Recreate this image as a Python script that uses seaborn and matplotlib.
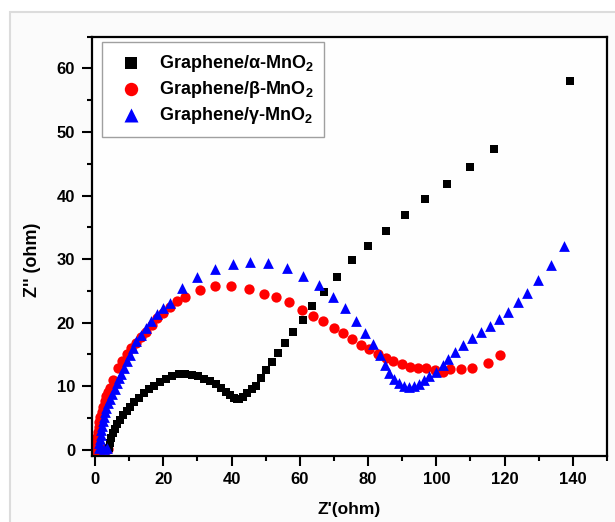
import matplotlib
matplotlib.use("Agg")
import matplotlib.pyplot as plt
import seaborn as sns
import pandas as pd
from matplotlib.patches import Rectangle
from matplotlib.ticker import MultipleLocator

# ---------------- data ----------------
alpha_x = [4.0, 4.3, 4.7, 5.2, 5.8, 6.5, 7.3, 8.2, 9.2, 10.3, 11.5, 12.8, 14.2, 15.7,
           17.3, 19.0, 20.8, 22.6, 24.5, 26.4, 28.3, 30.2, 32.0, 33.8, 35.5, 37.0,
           38.4, 39.6, 40.6, 41.5, 42.3, 43.4, 44.6, 45.9, 47.2, 48.7, 50.1, 51.8,
           53.7, 55.7, 58.1, 60.8, 63.7, 67.2, 71.0, 75.4, 80.0, 85.3, 90.8, 96.7,
           103.0, 109.8, 116.9, 139.3]
alpha_y = [0.3, 1.0, 1.8, 2.6, 3.3, 4.0, 4.7, 5.4, 6.1, 6.8, 7.5, 8.2, 8.9, 9.5,
           10.1, 10.7, 11.2, 11.6, 11.85, 11.9, 11.8, 11.6, 11.2, 10.8, 10.3, 9.7,
           9.1, 8.6, 8.2, 8.0, 7.95, 8.3, 8.9, 9.5, 10.1, 11.3, 12.5, 13.8,
           15.3, 16.8, 18.5, 20.4, 22.6, 24.9, 27.2, 29.8, 32.1, 34.4, 36.9, 39.4,
           41.8, 44.5, 47.3, 58.0]

beta_x = [3.7, 2.8, 1.8, 0.8, 0.0, 0.2, 0.4, 0.6, 0.8, 1.0, 1.2, 1.5, 1.9, 2.3, 2.8,
          3.3, 3.8, 4.3, 5.3, 6.7, 7.9, 9.2, 10.6, 12.1, 13.5, 15.0, 16.6, 18.2,
          20.0, 21.8, 24.0, 26.2, 30.6, 35.0, 39.9, 45.2, 49.6, 53.0, 56.9, 60.6,
          63.9, 66.9, 69.9, 72.7, 75.3, 77.9, 80.3, 82.8, 85.2, 87.4, 89.9, 92.3,
          94.5, 96.9, 99.6, 102.0, 103.9, 107.3, 110.5, 115.1, 118.6]
beta_y = [0.2, 0.1, 0.0, 0.0, 0.0, 0.6, 1.3, 2.0, 2.8, 3.6, 4.4, 5.2, 6.0, 6.8, 7.6,
          8.4, 9.1, 9.8, 11.0, 12.8, 14.0, 15.0, 16.0, 16.8, 17.7, 18.6, 19.7, 20.7,
          21.6, 22.5, 23.4, 24.1, 25.2, 25.8, 25.8, 25.3, 24.5, 24.1, 23.2, 22.0,
          21.1, 20.2, 19.2, 18.4, 17.5, 16.5, 15.8, 15.1, 14.4, 13.9, 13.5, 13.1,
          12.9, 12.8, 12.5, 12.2, 12.7, 12.7, 12.9, 13.6, 14.9]

gamma_x = [3.5, 2.5, 1.0, 1.2, 1.4, 1.6, 1.8, 2.0, 2.3, 2.6, 2.9, 3.3, 3.8, 4.3, 5.0,
           5.8, 6.4, 7.0, 7.7, 8.4, 9.2, 10.1, 11.1, 12.1, 13.4, 14.8, 16.3, 18.0,
           19.8, 21.8, 25.5, 29.8, 35.1, 40.3, 45.5, 50.8, 56.1, 61.0, 65.5, 69.8,
           73.3, 76.4, 79.2, 81.3, 83.4, 85.0, 86.2, 87.6, 89.1, 90.6, 92.0, 93.5,
           94.9, 96.4, 97.9, 99.8, 101.8, 103.5, 105.5, 107.8, 110.4, 113.0, 115.6,
           118.3, 121.1, 124.0, 126.6, 129.8, 133.6, 137.3]
gamma_y = [0.3, 0.2, 0.3, 1.0, 1.7, 2.4, 3.1, 3.8, 4.5, 5.2, 5.9, 6.6, 7.3, 8.0, 8.8,
           9.6, 10.5, 11.3, 12.0, 12.8, 13.9, 14.9, 16.0, 17.1, 18.1, 19.1, 20.3, 21.4,
           22.3, 23.1, 25.4, 27.2, 28.5, 29.2, 29.6, 29.4, 28.6, 27.4, 26.0, 24.1,
           22.3, 20.2, 18.3, 16.7, 14.9, 13.4, 12.1, 11.2, 10.5, 10.1, 9.9, 10.0,
           10.4, 11.0, 11.6, 12.3, 13.3, 14.3, 15.4, 16.5, 17.6, 18.6, 19.5,
           20.6, 21.7, 23.2, 24.7, 26.7, 29.1, 32.0]

labels = ["Graphene/α-MnO$_2$", "Graphene/β-MnO$_2$", "Graphene/γ-MnO$_2$"]
x_ticks = [0, 20, 40, 60, 80, 100, 120, 140]
y_ticks = [0, 10, 20, 30, 40, 50, 60]

# ---------------- style ----------------
sns.set_style("ticks")
plt.rcParams["font.family"] = ["Liberation Sans", "DejaVu Sans"]
plt.rcParams["font.weight"] = "bold"
plt.rcParams["mathtext.fontset"] = "custom"
plt.rcParams["mathtext.rm"] = "Liberation Sans:bold"
plt.rcParams["mathtext.it"] = "Liberation Sans:bold"
plt.rcParams["mathtext.bf"] = "Liberation Sans:bold"
plt.rcParams["mathtext.default"] = "rm"
for key in ["text.color", "axes.labelcolor", "xtick.color", "ytick.color",
            "xtick.labelcolor", "ytick.labelcolor"]:
    plt.rcParams[key] = "black"

W, H = 615, 522
fig = plt.figure(figsize=(W / 100, H / 100), dpi=100)
fig.patch.set_facecolor("white")
frame = Rectangle((10 / W, -0.02), 1.0, (H - 12) / H + 0.02,
                  transform=fig.transFigure, facecolor="#fbfbfb",
                  edgecolor="#dcdcdc", linewidth=1.5, zorder=-10)
fig.add_artist(frame)

L, R, T, B = 91.7, 607.0, 36.7, 455.5
ax = fig.add_axes([L / W, 1 - B / H, (R - L) / W, (B - T) / H])
ax.set_zorder(1)
ax.set_facecolor("#fefefe")

df_a = pd.DataFrame({"x": alpha_x, "y": alpha_y})
df_b = pd.DataFrame({"x": beta_x, "y": beta_y})
df_g = pd.DataFrame({"x": gamma_x, "y": gamma_y})

sns.scatterplot(data=df_a, x="x", y="y", marker="s", color="black", s=40,
                linewidth=0, ax=ax, label=labels[0], zorder=3)
sns.scatterplot(data=df_b, x="x", y="y", marker="o", color="#ff0000", s=55,
                linewidth=0, ax=ax, label=labels[1], zorder=2)
sns.scatterplot(data=df_g, x="x", y="y", marker="^", color="#0000ff", s=60,
                linewidth=0, ax=ax, label=labels[2], zorder=4)

ax.set_xlim(-1, 150)
ax.set_ylim(-0.9, 65)
ax.set_xticks(x_ticks)
ax.set_yticks(y_ticks)
ax.xaxis.set_minor_locator(MultipleLocator(10))
ax.yaxis.set_minor_locator(MultipleLocator(5))
ax.tick_params(which="major", direction="out", length=7, width=1.5,
               labelsize=12, pad=5, top=False, right=False, colors="black")
ax.tick_params(which="minor", direction="out", length=3.3, width=1.5,
               top=False, right=False, colors="black")
for lab in ax.get_xticklabels() + ax.get_yticklabels():
    lab.set_fontweight("bold")
for sp in ax.spines.values():
    sp.set_visible(True)
    sp.set_linewidth(1.6)
    sp.set_color("black")

ax.set_xlabel("Z'(ohm)", fontsize=12.5, fontweight="bold", color="black")
ax.set_ylabel("Z'' (ohm)", fontsize=13, fontweight="bold", color="black")
ax.xaxis.set_label_coords(0.5, -0.112)
ax.yaxis.set_label_coords(-0.098, 0.467)

leg = ax.legend(loc="upper left", bbox_to_anchor=(0.0194, 0.988),
                borderaxespad=0, frameon=True, fancybox=False,
                edgecolor="#a0a0a0", framealpha=1, fontsize=13,
                handlelength=2.1, handletextpad=0.45, labelspacing=0.28,
                borderpad=0.6, markerscale=1.3)
leg.get_frame().set_linewidth(1.0)
for t in leg.get_texts():
    t.set_fontweight("bold")
    t.set_color("black")

fig.savefig("out.png", dpi=100)
